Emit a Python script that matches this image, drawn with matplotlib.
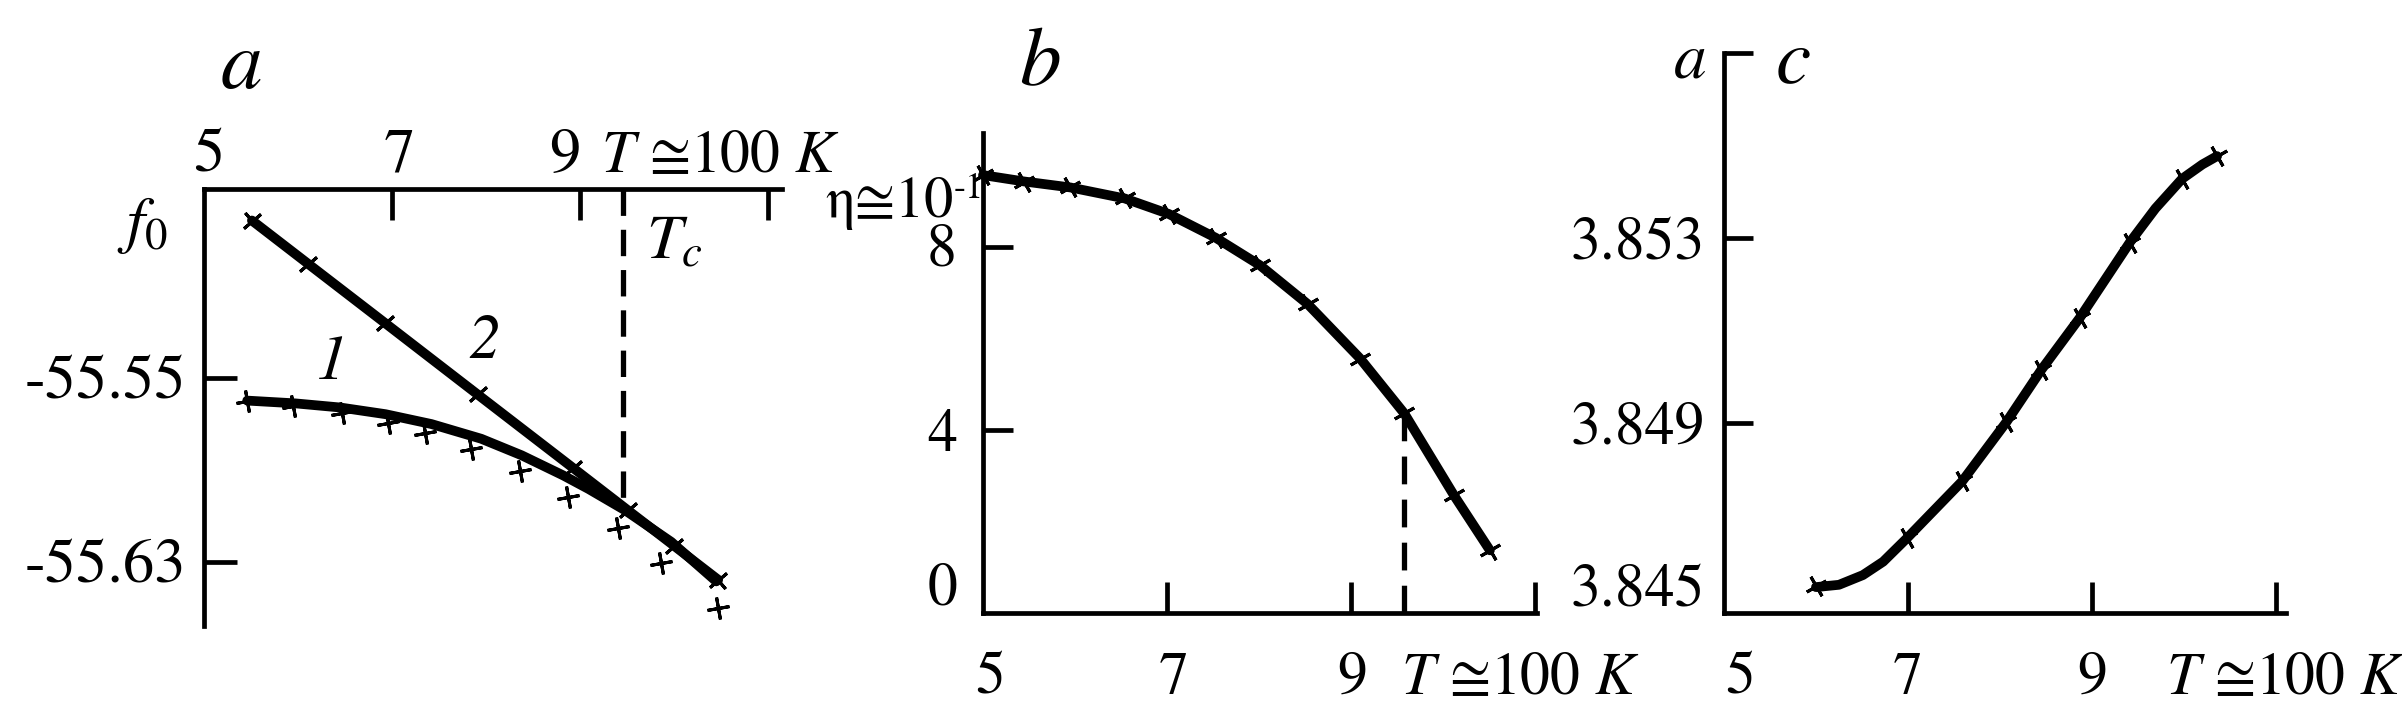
import matplotlib
matplotlib.use('Agg')
import matplotlib.pyplot as plt
import matplotlib.transforms as mtrans

plt.rcParams['font.family'] = ['STIXGeneral', 'Liberation Serif', 'DejaVu Serif']
plt.rcParams['mathtext.fontset'] = 'stix'
plt.rcParams['lines.scale_dashes'] = False

# ---------------- data ----------------
# panel a : free energy f0 vs T (units of 100 K)
T_a1_line = [5.46, 5.97, 6.45, 6.93, 7.42, 7.95, 8.38, 8.82, 9.09, 9.48, 9.97, 10.45]
f_a1_line = [-55.5600, -55.5612, -55.5630, -55.5659, -55.5702, -55.5766, -55.5838,
             -55.5925, -55.5984, -55.6077, -55.6214, -55.6386]
T_a1_pts = [5.46, 5.95, 6.47, 6.96, 7.35, 7.84, 8.36, 8.87, 9.40, 9.86, 10.47]
f_a1_pts = [-55.5600, -55.5625, -55.5654, -55.5697, -55.5740, -55.5812, -55.5905,
            -55.6020, -55.6156, -55.6307, -55.6501]
T_a2 = [5.51, 6.11, 6.93, 7.91, 8.93, 9.51, 10.00, 10.47]
f_a2 = [-55.4817, -55.5006, -55.5264, -55.5573, -55.5894, -55.6077, -55.6231, -55.6379]
Tc_a = 9.46
Tc_a_f = [-55.468, -55.605]
xticks_a = [7, 9, 11]
xlabels_a = ['5', '7', '9']
xlabel_pos_a = [5, 7, 9]
yticks_a = [-55.55, -55.63]
ylabels_a = ['-55.55', '-55.63']

# panel b : order parameter eta vs T
T_b = [5.0, 5.45, 5.95, 6.54, 7.02, 7.53, 8.01, 8.53, 9.10, 9.58, 10.12, 10.51]
eta_b = [9.57, 9.43, 9.30, 9.06, 8.72, 8.20, 7.60, 6.75, 5.56, 4.36, 2.57, 1.37]
Tc_b = 9.58
Tc_b_eta = [0.0, 4.36]
xticks_b = [7, 9, 11]
xlabels_b = ['5', '7', '9']
xlabel_pos_b = [5, 7, 9]
yticks_b = [4, 8]
ylabels_b = ['0', '4', '8']
ylabel_pos_b = [0, 4, 8]

# panel c : lattice parameter a vs T
T_c_line = [6.0, 6.25, 6.51, 6.73, 6.99, 7.59, 8.07, 8.45, 8.87, 9.41, 9.69, 9.98, 10.2, 10.36]
a_c_line = [3.84545, 3.84550, 3.84571, 3.84600, 3.84651, 3.84774, 3.84902, 3.85015,
            3.85128, 3.85290, 3.85364, 3.85428, 3.85459, 3.85477]
T_c_pts = [6.0, 6.99, 7.59, 8.07, 8.45, 8.87, 9.41, 9.98, 10.36]
a_c_pts = [3.84548, 3.84651, 3.84774, 3.84902, 3.85015, 3.85128, 3.85290, 3.85428, 3.85477]
xticks_c = [7, 9, 11]
xlabels_c = ['5', '7', '9']
xlabel_pos_c = [5, 7, 9]
yticks_c = [3.849, 3.853, 3.857]
ylabels_c = ['3.845', '3.849', '3.853']
ylabel_pos_c = [3.845, 3.849, 3.853]

T_unit_label = '$T$ ≅100 $K$'

# ---------------- figure ----------------
W, H, DPI = 2402, 716, 100
fig = plt.figure(figsize=(W / DPI, H / DPI), dpi=DPI)


def box(l, t, r, b):
    return [l / W, 1 - b / H, (r - l) / W, (b - t) / H]


SP_LW = 3.4
CURVE_LW = 7.0
TICK_FS = 43
MK = dict(ls='none', ms=16, mew=2.2, color='black', clip_on=False)


def lab(ax, x, y, s, dx=0, dy=0, xax=False, yax=False, **kw):
    tr = mtrans.blended_transform_factory(ax.transAxes if xax else ax.transData,
                                          ax.transAxes if yax else ax.transData)
    tr = mtrans.offset_copy(tr, fig=fig, x=dx, y=dy, units='dots')
    kw.setdefault('fontsize', TICK_FS)
    return ax.text(x, y, s, transform=tr, clip_on=False, **kw)


def style(ax, top=False):
    for s in ax.spines.values():
        s.set_linewidth(SP_LW)
        s.set_color('black')
    ax.spines['right'].set_visible(False)
    if top:
        ax.spines['bottom'].set_visible(False)
        ax.xaxis.set_ticks_position('top')
    else:
        ax.spines['top'].set_visible(False)
        ax.xaxis.set_ticks_position('bottom')
    ax.yaxis.set_ticks_position('left')
    ax.tick_params(axis='both', direction='in', width=SP_LW, length=22,
                   labelleft=False, labelbottom=False, labeltop=False, labelright=False)
    ax.patch.set_alpha(0)


# ===== panel a =====
axa = fig.add_axes(box(204, 189, 782, 626))
axa.set_xlim(5, 11.149)
axa.set_ylim(-55.658, -55.468)
style(axa, top=True)
axa.set_xticks(xticks_a)
axa.set_yticks(yticks_a)
axa.tick_params(axis='y', length=23.5)
axa.plot(T_a1_line, f_a1_line, color='black', lw=CURVE_LW, solid_capstyle='round',
         solid_joinstyle='round', clip_on=False)
axa.plot(T_a2, f_a2, color='black', lw=CURVE_LW, solid_capstyle='round', clip_on=False)
axa.plot(T_a1_pts, f_a1_pts, marker=(4, 2, 10), **MK)
axa.plot(T_a2, f_a2, marker=(4, 2, 40), **MK)
axa.plot([Tc_a, Tc_a], Tc_a_f, color='black', lw=3.8, ls=(0, (19, 10)))

offs_a = [5, 7, -15]
for xv, s, o in zip(xlabel_pos_a, xlabels_a, offs_a):
    lab(axa, xv, 1.0, s, dx=o, dy=17, yax=True, ha='center', va='baseline', fontsize=45)
lab(axa, 0, 1.0, T_unit_label, dx=397, dy=17, xax=True, yax=True, ha='left', va='baseline')
for yv, s in zip(yticks_a, ylabels_a):
    lab(axa, 0, yv, s, dx=-18, dy=-6, xax=True, ha='right', va='center', fontsize=45)
lab(axa, 0, 1.0, '$f_0$', dx=-36, dy=-52, xax=True, yax=True, ha='right', va='baseline', fontsize=46)
axa.text(6.36, -55.544, '1', style='italic', fontsize=46, ha='center', va='center')
axa.text(7.98, -55.535, '2', style='italic', fontsize=46, ha='center', va='center')
lab(axa, Tc_a, 1.0, '$T_c$', dx=23, dy=-24, yax=True, ha='left', va='top', fontsize=46)
fig.text(241 / W, 1 - 88 / H, 'a', style='italic', fontsize=60, ha='center', va='baseline')

# ===== panel b =====
axb = fig.add_axes(box(983, 133, 1537, 613))
axb.set_xlim(5, 11.022)
axb.set_ylim(0, 10.49)
style(axb)
axb.set_xticks(xticks_b)
axb.set_yticks(yticks_b)
axb.tick_params(axis='y', length=21.5)
axb.plot(T_b, eta_b, color='black', lw=CURVE_LW, solid_capstyle='round',
         solid_joinstyle='round', clip_on=False)
axb.plot(T_b, eta_b, marker=(4, 2, 30), **MK)
axb.plot([Tc_b, Tc_b], Tc_b_eta, color='black', lw=3.8, ls=(0, (20, 11)))

offs_b = [7, 7, 1]
for xv, s, o in zip(xlabel_pos_b, xlabels_b, offs_b):
    lab(axb, xv, 0.0, s, dx=o, dy=-81, yax=True, ha='center', va='baseline')
lab(axb, 0, 0.0, T_unit_label, dx=418, dy=-81, xax=True, yax=True, ha='left', va='baseline')
offs_by = [23, -7, -4]
for yv, s, o in zip(ylabel_pos_b, ylabels_b, offs_by):
    lab(axb, 0, yv, s, dx=-26, dy=o, xax=True, ha='right', va='center')
lab(axb, 0, 1.0, 'η≅10', dx=-29, dy=-84, xax=True, yax=True, ha='right', va='baseline', fontsize=42)
lab(axb, 0, 1.0, '-1', dx=1, dy=-65, xax=True, yax=True, ha='right', va='baseline', fontsize=26)
fig.text(1040 / W, 1 - 85 / H, 'b', style='italic', fontsize=60, ha='center', va='baseline')

# ===== panel c =====
axc = fig.add_axes(box(1724, 53, 2286, 613))
axc.set_xlim(5, 11.109)
axc.set_ylim(3.84489, 3.85700)
style(axc)
axc.set_xticks(xticks_c)
axc.set_yticks(yticks_c)
axc.tick_params(axis='y', length=21)
axc.plot(T_c_line, a_c_line, color='black', lw=CURVE_LW, solid_capstyle='round',
         solid_joinstyle='round', clip_on=False)
axc.plot(T_c_pts, a_c_pts, marker=(4, 2, 30), **MK)

offs_c = [16, 0, 0]
for xv, s, o in zip(xlabel_pos_c, xlabels_c, offs_c):
    lab(axc, xv, 0.0, s, dx=o, dy=-81, yax=True, ha='center', va='baseline')
lab(axc, 0, 0.0, T_unit_label, dx=442, dy=-81, xax=True, yax=True, ha='left', va='baseline')
offs_cy = [16, -6, -7]
for yv, s, o in zip(ylabel_pos_c, ylabels_c, offs_cy):
    lab(axc, 0, yv, s, dx=-19, dy=o, xax=True, ha='right', va='center')
fig.text(1690 / W, 1 - 78 / H, 'a', style='italic', fontsize=47, ha='center', va='baseline')
fig.text(1793 / W, 1 - 82 / H, 'c', style='italic', fontsize=57, ha='center', va='baseline')

fig.savefig('out.png', dpi=DPI)
